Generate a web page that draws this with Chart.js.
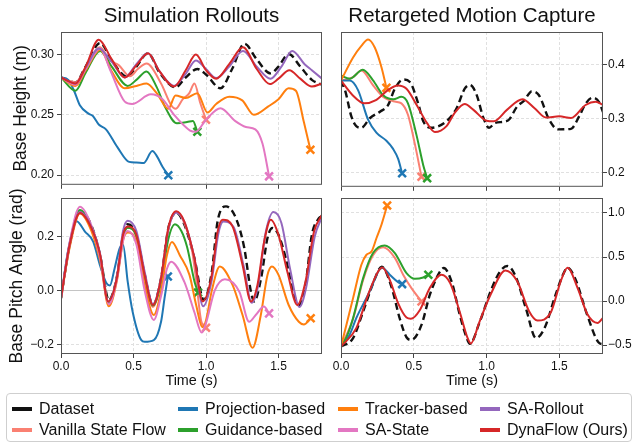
<!DOCTYPE html>
<html>
<head>
<meta charset="utf-8">
<script src="https://cdn.jsdelivr.net/npm/chart.js@4.4.0/dist/chart.umd.min.js"></script>
<style>
    body { margin: 0; width: 634px; height: 443px; background: #fff; position: relative; overflow: hidden;
           font-family: "Liberation Sans", Arial, sans-serif; }
    canvas { position: absolute; }
    #simHeight { left: 0; top: 0; }
    #mocapHeight { left: 330px; top: 0; }
    #simPitch { left: 0; top: 180px; }
    #mocapPitch { left: 330px; top: 180px; }
    #legend { position: absolute; left: 6px; top: 393px; width: 626px; height: 49px; box-sizing: border-box;
              border: 1px solid #cfcfcf; border-radius: 4px; }
    .item { position: absolute; font-size: 16px; line-height: 18px; color: #111; white-space: nowrap; }
    .item .h { display: inline-block; width: 20px; height: 4px; vertical-align: middle; margin-right: 7px; position: relative; top: -1px; }
</style>
</head>
<body>
<canvas id="simHeight" width="330" height="195"></canvas>
<canvas id="mocapHeight" width="304" height="195"></canvas>
<canvas id="simPitch" width="330" height="210"></canvas>
<canvas id="mocapPitch" width="304" height="210"></canvas>
<div id="legend"></div>
<script>
// series order follows the legend (Dataset first, DynaFlow last / on top)
var seriesNames = ["Dataset", "Vanilla State Flow", "Projection-based", "Guidance-based",
                   "Tracker-based", "SA-State", "SA-Rollout", "DynaFlow (Ours)"];
var seriesColors = ["#111111", "#fa8072", "#1f77b4", "#2ca02c", "#ff7f0e", "#e377c2", "#9467bd", "#d62728"];

var timeTicks = [0, 0.5, 1.0, 1.5];
var simHeightTicks = [0.20, 0.25, 0.30];
var mocapHeightTicks = [0.2, 0.3, 0.4];
var simPitchTicks = [-0.2, 0.0, 0.2];
var mocapPitchTicks = [-0.5, 0.0, 0.5, 1.0];

// [time (s), value] pairs
// --- Simulation rollouts: base height (m)
var simHeightDataset = [[0,0.281],[0.1,0.277],[0.17,0.290],[0.27,0.3096],[0.35,0.295],[0.46,0.2812],[0.52,0.290],[0.6,0.301],[0.68,0.285],[0.79,0.2728],[0.86,0.281],[0.94,0.288],[1.0,0.2835],[1.1,0.272],[1.18,0.288],[1.265,0.309],[1.35,0.296],[1.445,0.2844],[1.5,0.290],[1.57,0.3005],[1.65,0.290],[1.73,0.279],[1.8,0.275]];
var simHeightVanilla = [[0,0.281],[0.1,0.277],[0.17,0.289],[0.27,0.306],[0.33,0.296],[0.4,0.291],[0.475,0.282],[0.53,0.288],[0.59,0.2925],[0.69,0.276],[0.76,0.258],[0.79,0.255],[0.84,0.263],[0.885,0.268],[0.92,0.276],[0.96,0.260],[1.0,0.246]];
var simHeightProjection = [[0,0.281],[0.05,0.279],[0.09,0.270],[0.13,0.258],[0.19,0.251],[0.22,0.249],[0.26,0.242],[0.31,0.238],[0.39,0.223],[0.47,0.211],[0.52,0.2105],[0.57,0.210],[0.63,0.220],[0.66,0.216],[0.7,0.207],[0.74,0.200]];
var simHeightGuidance = [[0,0.281],[0.1,0.270],[0.17,0.285],[0.27,0.303],[0.35,0.290],[0.46,0.274],[0.52,0.279],[0.59,0.286],[0.66,0.273],[0.72,0.256],[0.8,0.243],[0.87,0.244],[0.91,0.245],[0.94,0.236]];
var simHeightTracker = [[0,0.281],[0.1,0.274],[0.17,0.287],[0.27,0.304],[0.35,0.286],[0.44,0.272],[0.52,0.274],[0.59,0.276],[0.66,0.268],[0.74,0.255],[0.79,0.266],[0.86,0.264],[0.94,0.268],[1.01,0.252],[1.07,0.259],[1.16,0.265],[1.25,0.262],[1.33,0.250],[1.43,0.257],[1.5,0.263],[1.57,0.272],[1.62,0.270],[1.675,0.244],[1.72,0.221]];
var simHeightSAState = [[0,0.281],[0.1,0.275],[0.17,0.288],[0.27,0.305],[0.34,0.287],[0.44,0.261],[0.49,0.259],[0.62,0.267],[0.7,0.263],[0.78,0.250],[0.89,0.237],[0.93,0.236],[1.0,0.246],[1.1,0.2555],[1.2,0.245],[1.275,0.240],[1.34,0.238],[1.39,0.226],[1.435,0.199]];
var simHeightSARollout = [[0,0.281],[0.1,0.276],[0.17,0.289],[0.26,0.305],[0.35,0.294],[0.44,0.281],[0.52,0.292],[0.6,0.301],[0.68,0.286],[0.78,0.274],[0.86,0.284],[0.93,0.295],[1.0,0.288],[1.07,0.2805],[1.16,0.290],[1.255,0.303],[1.35,0.290],[1.445,0.280],[1.52,0.290],[1.595,0.303],[1.68,0.292],[1.73,0.287],[1.8,0.280]];
var simHeightDynaFlow = [[0,0.281],[0.1,0.276],[0.17,0.290],[0.26,0.3123],[0.35,0.296],[0.44,0.281],[0.52,0.291],[0.6,0.301],[0.68,0.286],[0.78,0.2735],[0.86,0.287],[0.93,0.300],[1.0,0.287],[1.07,0.280],[1.16,0.292],[1.255,0.306],[1.35,0.288],[1.44,0.2755],[1.5,0.280],[1.575,0.287],[1.65,0.280],[1.73,0.2735],[1.8,0.276]];

// --- Retargeted motion capture: base height (m)
var mocapHeightDataset = [[0,0.370],[0.03,0.350],[0.07,0.305],[0.105,0.286],[0.14,0.283],[0.2,0.301],[0.27,0.313],[0.324,0.325],[0.37,0.355],[0.427,0.372],[0.473,0.3675],[0.53,0.328],[0.565,0.295],[0.62,0.283],[0.725,0.295],[0.794,0.319],[0.85,0.355],[0.885,0.362],[0.93,0.345],[0.98,0.300],[1.017,0.283],[1.06,0.292],[1.145,0.296],[1.21,0.322],[1.258,0.333],[1.31,0.350],[1.36,0.343],[1.43,0.298],[1.49,0.280],[1.58,0.281],[1.636,0.304],[1.682,0.328],[1.728,0.3385],[1.774,0.330],[1.8,0.312]];
var mocapHeightVanilla = [[0,0.370],[0.083,0.3765],[0.14,0.3886],[0.22,0.3614],[0.29,0.340],[0.37,0.3313],[0.415,0.328],[0.46,0.307],[0.505,0.256],[0.553,0.1926]];
var mocapHeightProjection = [[0,0.370],[0.06,0.370],[0.117,0.3524],[0.186,0.298],[0.243,0.274],[0.312,0.259],[0.358,0.244],[0.392,0.226],[0.42,0.199]];
var mocapHeightGuidance = [[0,0.3795],[0.06,0.3735],[0.15,0.390],[0.22,0.3705],[0.29,0.343],[0.36,0.3355],[0.415,0.340],[0.46,0.328],[0.52,0.268],[0.565,0.214],[0.592,0.190]];
var mocapHeightTracker = [[0,0.370],[0.083,0.4127],[0.14,0.434],[0.186,0.4458],[0.232,0.431],[0.278,0.3946],[0.312,0.3566]];
var mocapHeightDynaFlow = [[0,0.370],[0.08,0.343],[0.16,0.328],[0.24,0.334],[0.32,0.352],[0.39,0.361],[0.45,0.355],[0.52,0.325],[0.59,0.292],[0.645,0.275],[0.725,0.286],[0.78,0.310],[0.85,0.327],[0.91,0.316],[1.0,0.296],[1.05,0.295],[1.14,0.316],[1.246,0.3355],[1.33,0.319],[1.407,0.302],[1.5,0.304],[1.58,0.301],[1.68,0.325],[1.75,0.331],[1.8,0.325]];

// --- Simulation rollouts: base pitch angle (rad)
var simPitchDataset = [[0,-0.028],[0.06,0.17],[0.13,0.293],[0.21,0.24],[0.27,0.13],[0.33,-0.035],[0.385,0.05],[0.43,0.212],[0.46,0.245],[0.52,0.205],[0.577,0.06],[0.634,-0.053],[0.69,0.046],[0.74,0.23],[0.795,0.288],[0.85,0.245],[0.92,0.12],[0.985,-0.035],[1.04,0.07],[1.08,0.256],[1.138,0.311],[1.206,0.268],[1.264,0.157],[1.31,-0.004],[1.332,-0.04],[1.38,0.046],[1.424,0.194],[1.458,0.231],[1.5,0.206],[1.55,0.12],[1.607,-0.016],[1.64,-0.053],[1.686,0.021],[1.73,0.206],[1.78,0.268],[1.8,0.275]];
var simPitchVanilla = [[0,-0.028],[0.06,0.17],[0.13,0.29],[0.21,0.235],[0.27,0.13],[0.325,-0.045],[0.385,0.045],[0.428,0.2],[0.46,0.232],[0.52,0.2],[0.577,0.05],[0.634,-0.06],[0.69,0.04],[0.74,0.225],[0.795,0.29],[0.85,0.25],[0.9,0.16],[0.932,0.04],[0.966,-0.11],[1.0,-0.137]];
var simPitchProjection = [[0,-0.028],[0.05,0.15],[0.108,0.256],[0.165,0.218],[0.222,0.181],[0.268,0.095],[0.314,0.027],[0.337,0.019],[0.37,0.083],[0.405,0.157],[0.428,0.169],[0.46,0.033],[0.494,-0.078],[0.554,-0.183],[0.577,-0.189],[0.64,-0.183],[0.69,-0.115],[0.714,-0.028],[0.737,0.052]];
var simPitchGuidance = [[0,-0.028],[0.06,0.17],[0.13,0.298],[0.21,0.235],[0.27,0.13],[0.33,-0.045],[0.385,0.045],[0.43,0.2],[0.46,0.232],[0.52,0.2],[0.577,0.055],[0.634,-0.055],[0.69,0.03],[0.74,0.19],[0.785,0.245],[0.83,0.22],[0.87,0.16],[0.92,0.035],[0.945,-0.007]];
var simPitchTracker = [[0,-0.028],[0.06,0.16],[0.13,0.285],[0.21,0.22],[0.27,0.11],[0.33,-0.058],[0.385,0.035],[0.43,0.19],[0.46,0.215],[0.52,0.18],[0.577,0.02],[0.64,-0.09],[0.69,0.0],[0.73,0.13],[0.765,0.18],[0.82,0.13],[0.886,0.058],[0.932,-0.053],[0.975,-0.135],[1.0,-0.11],[1.04,0.0],[1.095,0.089],[1.183,0.021],[1.252,-0.09],[1.321,-0.211],[1.378,-0.09],[1.424,0.058],[1.455,0.089],[1.5,0.058],[1.57,-0.053],[1.64,-0.115],[1.675,-0.125],[1.722,-0.102]];
var simPitchSAState = [[0,-0.028],[0.06,0.18],[0.13,0.31],[0.21,0.24],[0.27,0.12],[0.33,-0.05],[0.385,0.04],[0.43,0.19],[0.46,0.22],[0.52,0.17],[0.577,0.0],[0.64,-0.108],[0.69,-0.02],[0.73,0.08],[0.76,0.107],[0.85,0.033],[0.92,-0.08],[0.97,-0.155],[1.0,-0.12],[1.06,0.0],[1.13,0.042],[1.23,-0.004],[1.298,-0.115],[1.343,-0.09],[1.40,-0.059],[1.435,-0.084]];
var simPitchSARollout = [[0,-0.028],[0.06,0.17],[0.13,0.29],[0.21,0.235],[0.27,0.135],[0.325,-0.04],[0.385,0.05],[0.428,0.22],[0.46,0.258],[0.52,0.22],[0.577,0.07],[0.634,-0.05],[0.69,0.046],[0.74,0.225],[0.795,0.288],[0.85,0.255],[0.92,0.12],[0.98,-0.058],[1.04,0.04],[1.085,0.21],[1.12,0.255],[1.19,0.235],[1.26,0.09],[1.315,-0.045],[1.36,0.02],[1.41,0.21],[1.465,0.29],[1.52,0.25],[1.58,0.08],[1.645,-0.06],[1.69,0.01],[1.75,0.2],[1.8,0.272]];
var simPitchDynaFlow = [[0,-0.028],[0.06,0.17],[0.13,0.287],[0.21,0.231],[0.27,0.132],[0.325,-0.04],[0.385,0.046],[0.428,0.206],[0.46,0.237],[0.52,0.206],[0.577,0.058],[0.634,-0.053],[0.69,0.046],[0.74,0.231],[0.795,0.293],[0.85,0.256],[0.92,0.12],[0.977,-0.04],[1.04,0.058],[1.08,0.218],[1.115,0.262],[1.183,0.237],[1.252,0.095],[1.31,-0.04],[1.355,0.021],[1.401,0.181],[1.447,0.262],[1.5,0.206],[1.561,0.07],[1.63,-0.053],[1.686,0.033],[1.745,0.218],[1.8,0.28]];

// --- Retargeted motion capture: base pitch angle (rad)
var mocapPitchDataset = [[0,-0.516],[0.083,-0.42],[0.152,-0.118],[0.22,0.2],[0.28,0.39],[0.347,0.16],[0.404,-0.2],[0.45,-0.41],[0.484,-0.44],[0.553,-0.27],[0.61,0.07],[0.668,0.3],[0.706,0.375],[0.764,0.2],[0.815,-0.15],[0.86,-0.4],[0.886,-0.485],[0.95,-0.25],[1.03,0.12],[1.09,0.33],[1.143,0.398],[1.2,0.28],[1.27,-0.08],[1.34,-0.42],[1.4,-0.3],[1.47,0.05],[1.52,0.28],[1.556,0.378],[1.61,0.25],[1.69,-0.15],[1.77,-0.47],[1.8,-0.49]];
var mocapPitchVanilla = [[0,-0.516],[0.083,-0.2],[0.152,0.24],[0.22,0.52],[0.29,0.61],[0.37,0.49],[0.427,0.3],[0.484,0.148],[0.553,-0.005]];
var mocapPitchProjection = [[0,-0.516],[0.06,-0.38],[0.105,-0.193],[0.197,0.11],[0.265,0.36],[0.285,0.375],[0.335,0.3],[0.392,0.216],[0.42,0.193]];
var mocapPitchGuidance = [[0,-0.516],[0.04,-0.4],[0.083,-0.193],[0.152,0.261],[0.22,0.545],[0.3,0.632],[0.37,0.545],[0.45,0.318],[0.507,0.253],[0.565,0.268],[0.6,0.3]];
var mocapPitchTracker = [[0,-0.516],[0.04,-0.25],[0.083,0.034],[0.14,0.412],[0.175,0.526],[0.21,0.564],[0.244,0.716],[0.278,0.867],[0.317,1.086]];
var mocapPitchDynaFlow = [[0,-0.516],[0.105,-0.307],[0.186,0.072],[0.255,0.336],[0.283,0.382],[0.335,0.242],[0.392,-0.023],[0.45,-0.186],[0.48,-0.2],[0.542,-0.1],[0.61,0.148],[0.69,0.3],[0.75,0.205],[0.815,-0.118],[0.87,-0.42],[0.892,-0.48],[0.95,-0.24],[1.028,0.075],[1.13,0.348],[1.21,0.227],[1.292,-0.114],[1.35,-0.22],[1.44,-0.133],[1.51,0.227],[1.556,0.378],[1.625,0.151],[1.694,-0.152],[1.763,-0.247],[1.8,-0.19]];

var FONT = "'Liberation Sans', Arial, sans-serif";
var END_TIME = 1.8;

function fmt(v, d) {
    return v.toFixed(d).replace('-', '\u2212');
}

function buildDatasets(list) {
    var out = [];
    list.forEach(function (pairs, i) {
        if (!pairs) return;
        var last = pairs.length - 1;
        var failed = pairs[last][0] < END_TIME - 0.01;
        out.push({
            label: seriesNames[i],
            data: pairs.map(function (p) { return {x: p[0], y: p[1]}; }),
            borderColor: seriesColors[i],
            backgroundColor: seriesColors[i],
            borderWidth: i === 0 ? 2.4 : 2,
            borderDash: i === 0 ? [7, 4] : [],
            cubicInterpolationMode: 'monotone',
            fill: false,
            pointStyle: 'crossRot',
            pointRadius: function (c) { return failed && c.dataIndex === last ? 5.5 : 0; },
            pointBorderWidth: 2.5,
            pointBorderColor: seriesColors[i],
            order: seriesNames.length - 1 - i
        });
    });
    return out;
}

function gridOpts() {
    return {
        color: function (c) { return c.tick && c.tick.value === 0 ? '#c4c4c4' : '#e0e0e0'; },
        lineWidth: 1,
        tickLength: 4,
        tickColor: '#444',
        tickWidth: 1
    };
}

function borderOpts() {
    return {
        display: false,
        dash: function (c) { return c.tick && c.tick.value === 0 ? [] : [3, 2]; }
    };
}

// axes frame on all four sides
var framePlugin = {
    id: 'frame',
    afterDraw: function (chart) {
        var a = chart.chartArea, ctx = chart.ctx;
        ctx.save();
        ctx.strokeStyle = '#555';
        ctx.lineWidth = 1;
        ctx.strokeRect(a.left + 0.5, a.top + 0.5, a.right - a.left - 1, a.bottom - a.top - 1);
        ctx.restore();
    }
};

function makeChart(id, o) {
    return new Chart(document.getElementById(id), {
        type: 'line',
        data: { datasets: buildDatasets(o.series) },
        options: {
            responsive: false,
            animation: false,
            events: [],
            layout: { padding: o.padding },
            plugins: {
                legend: { display: false },
                tooltip: { enabled: false },
                title: {
                    display: !!o.title,
                    text: o.title,
                    fullSize: false,
                    color: '#111',
                    font: { family: FONT, size: 20.5, weight: 'normal' },
                    padding: { top: 4, bottom: 3.4 }
                }
            },
            scales: {
                x: {
                    type: 'linear',
                    min: 0,
                    max: END_TIME,
                    afterBuildTicks: function (s) { s.ticks = timeTicks.map(function (v) { return {value: v}; }); },
                    afterFit: function (s) { s.height = o.xHeight; },
                    grid: gridOpts(),
                    border: borderOpts(),
                    ticks: {
                        display: o.xLabels,
                        color: '#111',
                        padding: 1,
                        maxRotation: 0,
                        autoSkip: false,
                        font: { family: FONT, size: 12 },
                        callback: function (v) { return fmt(v, 1); }
                    },
                    title: {
                        display: o.xLabels,
                        text: 'Time (s)',
                        color: '#111',
                        padding: 0,
                        font: { family: FONT, size: 14.4 }
                    }
                },
                y: {
                    type: 'linear',
                    position: o.yPos,
                    min: o.yMin,
                    max: o.yMax,
                    afterBuildTicks: function (s) { s.ticks = o.yTicks.map(function (v) { return {value: v}; }); },
                    afterFit: function (s) { s.width = o.yWidth; },
                    grid: gridOpts(),
                    border: borderOpts(),
                    ticks: {
                        color: '#111',
                        padding: o.yPos === 'left' ? 3 : 1,
                        font: { family: FONT, size: 12 },
                        callback: function (v) { return fmt(v, o.yDec); }
                    },
                    title: {
                        display: !!o.yTitle,
                        text: o.yTitle,
                        color: '#111',
                        padding: { top: o.yTitlePad || 0, bottom: 0 },
                        font: { family: FONT, size: 17.5 }
                    }
                }
            }
        },
        plugins: [framePlugin]
    });
}

document.addEventListener("DOMContentLoaded", function () {
    makeChart('simHeight', {
        series: [simHeightDataset, simHeightVanilla, simHeightProjection, simHeightGuidance,
                 simHeightTracker, simHeightSAState, simHeightSARollout, simHeightDynaFlow],
        title: 'Simulation Rollouts',
        padding: { left: 0, right: 7, top: 0, bottom: 0 },
        xHeight: 5, xLabels: false,
        yPos: 'left', yWidth: 61, yMin: 0.192, yMax: 0.3187, yTicks: simHeightTicks, yDec: 2,
        yTitle: 'Base Height (m)', yTitlePad: 11
    });
    makeChart('mocapHeight', {
        series: [mocapHeightDataset, mocapHeightVanilla, mocapHeightProjection, mocapHeightGuidance,
                 mocapHeightTracker, null, null, mocapHeightDynaFlow],
        title: 'Retargeted Motion Capture',
        padding: { left: 11, right: 0, top: 0, bottom: 0 },
        xHeight: 5, xLabels: false,
        yPos: 'right', yWidth: 31, yMin: 0.174, yMax: 0.4597, yTicks: mocapHeightTicks, yDec: 1
    });
    makeChart('simPitch', {
        series: [simPitchDataset, simPitchVanilla, simPitchProjection, simPitchGuidance,
                 simPitchTracker, simPitchSAState, simPitchSARollout, simPitchDynaFlow],
        padding: { left: 0, right: 7, top: 18, bottom: 0 },
        xHeight: 36, xLabels: true,
        yPos: 'left', yWidth: 61, yMin: -0.234, yMax: 0.342, yTicks: simPitchTicks, yDec: 1,
        yTitle: 'Base Pitch Angle (rad)', yTitlePad: 7
    });
    makeChart('mocapPitch', {
        series: [mocapPitchDataset, mocapPitchVanilla, mocapPitchProjection, mocapPitchGuidance,
                 mocapPitchTracker, null, null, mocapPitchDynaFlow],
        padding: { left: 11, right: 0, top: 18, bottom: 0 },
        xHeight: 36, xLabels: true,
        yPos: 'right', yWidth: 31, yMin: -0.6, yMax: 1.17, yTicks: mocapPitchTicks, yDec: 1
    });

    // legend: 4 columns x 2 rows, filled column by column
    var legendCols = [5, 171, 331, 473];
    var legendRows = [6, 27];
    var box = document.getElementById('legend');
    seriesNames.forEach(function (name, i) {
        var item = document.createElement('div');
        item.className = 'item';
        item.style.left = legendCols[Math.floor(i / 2)] + 'px';
        item.style.top = legendRows[i % 2] + 'px';
        var h = document.createElement('span');
        h.className = 'h';
        h.style.background = seriesColors[i];
        item.appendChild(h);
        item.appendChild(document.createTextNode(name));
        box.appendChild(item);
    });
});
</script>
</body>
</html>
